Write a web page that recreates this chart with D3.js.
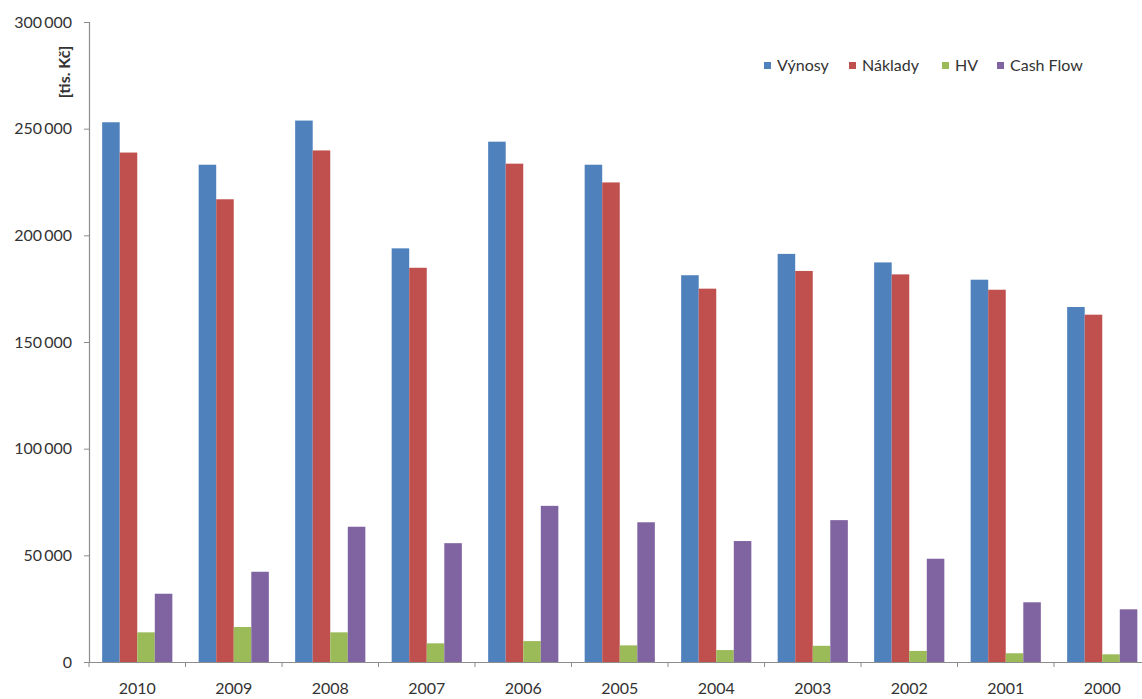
<!DOCTYPE html>
<html>
<head>
<meta charset="utf-8">
<script src="https://cdn.jsdelivr.net/npm/d3@7"></script>
<style>
  html, body { margin: 0; padding: 0; background: #fff; }
  svg { display: block; font-family: Lato, "Open Sans", sans-serif; }
</style>
</head>
<body>
<svg id="chart" width="1142" height="699"></svg>
<script>
// Years shown left to right (newest first)
const years = ["2010", "2009", "2008", "2007", "2006", "2005", "2004", "2003", "2002", "2001", "2000"];

// Values in thousands of CZK
const vynosy  = [253000, 233100, 253800, 193900, 243900, 233100, 181300, 191300, 187300, 179200, 166400];
const naklady = [238800, 216900, 239800, 184800, 233600, 224800, 175000, 183300, 181700, 174500, 162800];
const hv      = [13900, 16400, 13900, 8750, 9800, 7800, 5600, 7600, 5200, 4100, 3600];
const cashFlow = [32000, 42300, 63400, 55700, 73200, 65500, 56700, 66500, 48400, 28000, 24700];

const seriesNames = ["Výnosy", "Náklady", "HV", "Cash Flow"];
const seriesValues = [vynosy, naklady, hv, cashFlow];
const seriesColors = ["#4F81BD", "#C0504D", "#9BBB59", "#8064A2"];

const yTicks = [0, 50000, 100000, 150000, 200000, 250000, 300000];
const yTitle = "[tis. Kč]";

const svg = d3.select("#chart");
const axisColor = "#8c8c8c";
const textColor = "#333333";

// Plot area
const x0 = 89, y0 = 662, yTop = 22;
const bandW = 96.5;

const x = d3.scaleBand()
  .domain(years)
  .range([x0, x0 + bandW * years.length])
  .paddingInner(0).paddingOuter(0);

// Bars take 4 slots of 5.5 per category (gap of 1.5 bar widths)
const barW = x.bandwidth() / 5.5;
const xs = d3.scaleBand()
  .domain(seriesNames)
  .range([barW * 0.75, barW * 4.75])
  .paddingInner(0).paddingOuter(0);

const y = d3.scaleLinear().domain([0, 300000]).range([y0, yTop]);

// Bars
const rows = years.map((yr, i) => ({
  year: yr,
  vals: seriesNames.map((s, k) => ({ key: s, value: seriesValues[k][i], color: seriesColors[k] }))
}));

const groups = svg.append("g").selectAll("g")
  .data(rows).join("g")
  .attr("transform", d => `translate(${x(d.year)},0)`);

groups.selectAll("rect")
  .data(d => d.vals).join("rect")
  .attr("x", d => xs(d.key))
  .attr("width", xs.bandwidth())
  .attr("y", d => y(d.value))
  .attr("height", d => y0 - y(d.value))
  .attr("fill", d => d.color);

// Y axis: thousands separated by a narrow space
const fmtSpace = v => d3.format(",")(v).replace(/,/g, "\u2009");
const yAxis = svg.append("g")
  .attr("transform", `translate(${x0},0)`)
  .call(d3.axisLeft(y).tickValues(yTicks).tickFormat(fmtSpace).tickSize(5).tickPadding(12));
yAxis.select(".domain").attr("stroke", axisColor).attr("stroke-width", 1.2);
yAxis.selectAll(".tick line").attr("stroke", axisColor);
yAxis.selectAll(".tick text")
  .attr("fill", textColor)
  .style("font-size", "16px")
  .style("font-family", "Lato, sans-serif");

// X axis with tick marks at category boundaries
const xAxis = svg.append("g")
  .attr("transform", `translate(0,${y0})`)
  .call(d3.axisBottom(x).tickSize(0).tickPadding(21));
xAxis.select(".domain").attr("stroke", axisColor).attr("stroke-width", 1.2);
xAxis.selectAll(".tick text")
  .attr("fill", textColor)
  .style("font-size", "16px")
  .style("font-family", "Lato, sans-serif");
xAxis.selectAll(".boundary")
  .data(d3.range(years.length + 1)).join("line")
  .attr("class", "boundary")
  .attr("x1", i => x0 + i * x.step())
  .attr("x2", i => x0 + i * x.step())
  .attr("y1", 0).attr("y2", 5)
  .attr("stroke", axisColor);

// Y axis title
svg.append("text")
  .attr("transform", "translate(70,72) rotate(-90)")
  .attr("text-anchor", "middle")
  .attr("fill", textColor)
  .style("font-size", "16px")
  .style("font-weight", "bold")
  .text(yTitle);

// Legend
const legendX = [764, 849, 942, 997];
const legend = svg.append("g").selectAll("g")
  .data(seriesNames).join("g")
  .attr("transform", (d, i) => `translate(${legendX[i]},62)`);
legend.append("rect")
  .attr("width", 7).attr("height", 7)
  .attr("fill", (d, i) => seriesColors[i]);
legend.append("text")
  .attr("x", 13).attr("y", 9)
  .attr("fill", textColor)
  .style("font-size", "16px")
  .text(d => d);
</script>
</body>
</html>
